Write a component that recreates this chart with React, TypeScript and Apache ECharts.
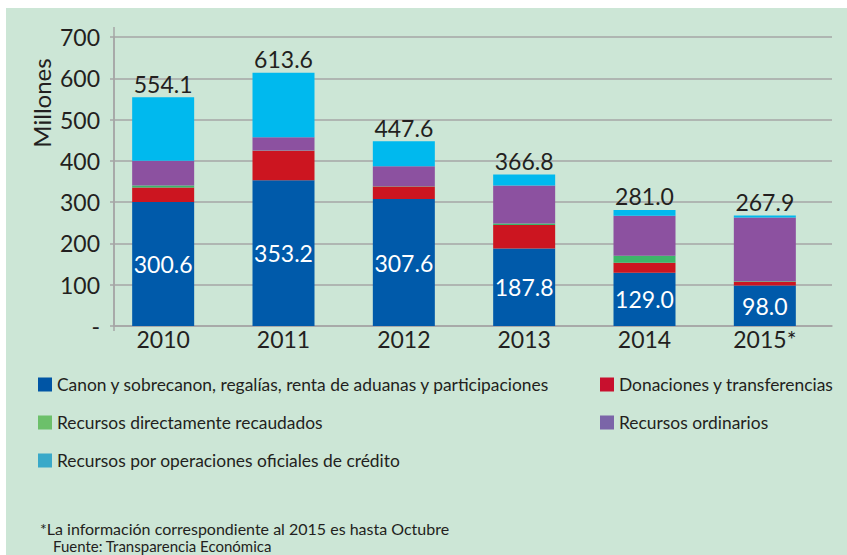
import React, { useEffect, useRef } from "react";
import * as echarts from "echarts";

const years = ["2010", "2011", "2012", "2013", "2014", "2015*"];
const canon = [300.6, 353.2, 307.6, 187.8, 129.0, 98.0];
const donaciones = [34.8, 71.1, 30.2, 57.1, 24.0, 9.4];
const directos = [4.8, 0.5, 0.5, 3.1, 17.0, 0.8];
const ordinarios = [59.8, 32.3, 48.5, 92.2, 97.0, 154.4];
const credito = [154.1, 156.5, 60.8, 26.6, 14.0, 5.3];
const totals = ["554.1", "613.6", "447.6", "366.8", "281.0", "267.9"];

const names = [
  "Canon y sobrecanon, regalías, renta de aduanas y participaciones",
  "Donaciones y transferencias",
  "Recursos directamente recaudados",
  "Recursos ordinarios",
  "Recursos por operaciones oficiales de crédito",
];
const barColors = ["#005AAA", "#CC1520", "#3DB56A", "#8C51A0", "#00B9EE"];
const legendColors = ["#0055A5", "#C8102E", "#6CC06A", "#7B65A8", "#39A9C9"];

const FONT = "Lato, 'Open Sans', sans-serif";
const TXT = "#231F20";
const GRID = "#A6A6A6";

export default function App() {
  const ref = useRef<HTMLDivElement>(null);
  useEffect(() => {
    document.body.style.margin = "0";
    const chart = echarts.init(ref.current!, null, { renderer: "svg" });
    const seriesData = [canon, donaciones, directos, ordinarios, credito];
    const legendPos = [
      { left: 38, top: 376 },
      { left: 600, top: 376 },
      { left: 38, top: 414 },
      { left: 600, top: 414 },
      { left: 38, top: 452 },
    ];
    chart.setOption({
      animation: false,
      backgroundColor: "#ffffff",
      textStyle: { fontFamily: FONT },
      grid: [
        { left: 114, right: 15, top: 37, bottom: 229 },
        { left: 103, right: 22, top: 37, bottom: 229 },
      ],
      graphic: [
        {
          type: "rect",
          z: -100,
          silent: true,
          shape: { x: 6, y: 8, width: 841, height: 547 },
          style: { fill: "#CCE6D6" },
        },
        {
          type: "line",
          silent: true,
          shape: { x1: 114, y1: 27, x2: 114, y2: 331 },
          style: { stroke: GRID, lineWidth: 1.5 },
        },
        {
          type: "text",
          x: 41,
          y: 103,
          rotation: Math.PI / 2,
          style: {
            text: "Millones",
            fontSize: 24,
            fontFamily: FONT,
            fill: TXT,
            align: "center",
            verticalAlign: "middle",
          },
        },
        {
          type: "text",
          x: 40,
          y: 528,
          style: {
            text: "*La información correspondiente al 2015 es hasta Octubre",
            fontSize: 16,
            fontFamily: FONT,
            fill: TXT,
            verticalAlign: "middle",
          },
        },
        {
          type: "text",
          x: 53,
          y: 546,
          style: {
            text: "Fuente: Transparencia Económica",
            fontSize: 15,
            fontFamily: FONT,
            fill: TXT,
            verticalAlign: "middle",
          },
        },
      ],
      legend: names.map((n, i) => ({
        data: [{ name: n, itemStyle: { color: legendColors[i] } }],
        left: legendPos[i].left,
        top: legendPos[i].top,
        padding: 0,
        icon: "rect",
        itemWidth: 14,
        itemHeight: 14,
        itemGap: 6,
        selectedMode: false,
        textStyle: { fontSize: 17.4, color: TXT, fontFamily: FONT },
      })),
      xAxis: [
        {
          type: "value",
          gridIndex: 0,
          min: 0,
          max: 1,
          axisLine: { show: true, lineStyle: { color: GRID, width: 1.5 } },
          axisTick: { show: false },
          axisLabel: { show: false },
          splitLine: { show: false },
        },
        {
          type: "category",
          gridIndex: 1,
          data: years,
          axisLine: { show: false },
          axisTick: { show: false },
          axisLabel: { fontSize: 23, color: TXT, fontFamily: FONT, margin: 1 },
        },
      ],
      yAxis: [
        {
          type: "value",
          gridIndex: 0,
          min: 0,
          max: 700,
          interval: 100,
          axisLine: { show: true, lineStyle: { color: GRID, width: 1.5 } },
          axisTick: { show: true, length: 4, lineStyle: { color: GRID, width: 1.5 } },
          splitLine: { lineStyle: { color: GRID, width: 1.5 } },
          axisLabel: {
            fontSize: 23,
            color: TXT,
            fontFamily: FONT,
            margin: 14,
            formatter: (v: number) => (v === 0 ? "-" : String(v)),
          },
        },
        {
          type: "value",
          gridIndex: 1,
          min: 0,
          max: 700,
          interval: 100,
          show: false,
        },
      ],
      series: seriesData.map((d, i) => ({
        name: names[i],
        type: "bar",
        xAxisIndex: 1,
        yAxisIndex: 1,
        stack: "total",
        barWidth: 62,
        data: d,
        itemStyle: { color: barColors[i] },
        label:
          i === 0
            ? {
                show: true,
                position: "inside",
                color: "#ffffff",
                fontSize: 23,
                fontFamily: FONT,
                formatter: (p: any) => canon[p.dataIndex].toFixed(1),
              }
            : i === 4
            ? {
                show: true,
                position: "top",
                distance: 2,
                color: TXT,
                fontSize: 23,
                fontFamily: FONT,
                formatter: (p: any) => totals[p.dataIndex],
              }
            : { show: false },
      })),
    });
    return () => chart.dispose();
  }, []);
  return <div ref={ref} style={{ width: 847, height: 555 }} />;
}
